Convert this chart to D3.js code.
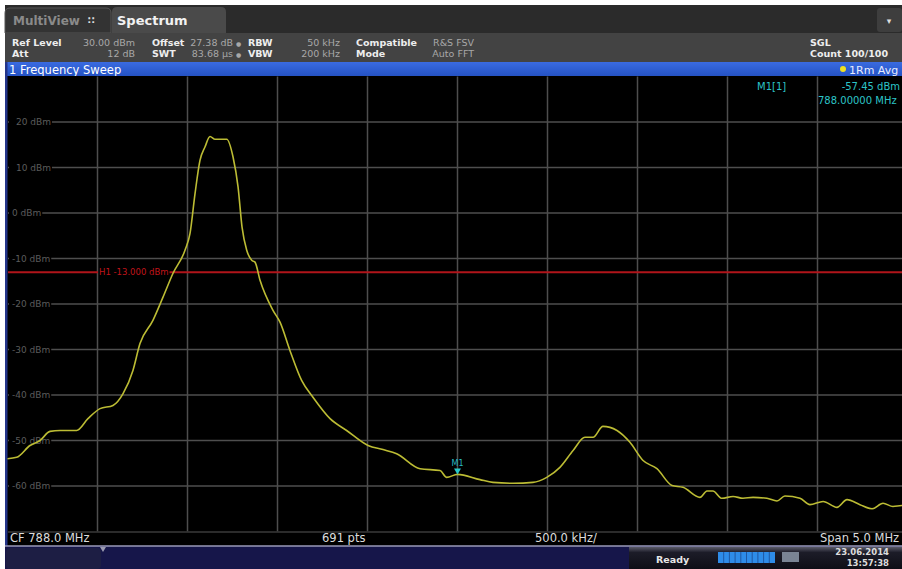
<!DOCTYPE html>
<html><head><meta charset="utf-8">
<script src="https://cdn.jsdelivr.net/npm/d3@7/dist/d3.min.js"></script>
<style>
html,body{margin:0;padding:0;background:#fff;overflow:hidden;}
svg{display:block;font-family:"DejaVu Sans",Verdana,sans-serif;}
</style></head><body>
<svg id="c" width="902" height="569"></svg>
<script>
// ---- data ----
const freqMHz = [785.50,785.551,785.625,785.681,785.736,785.792,785.884,785.947,786.014,786.086,786.142,786.197,786.236,786.308,786.364,786.419,786.486,786.514,786.542,786.569,786.597,786.625,786.653,786.718,786.753,786.781,786.803,786.829,786.857,786.875,786.903,786.975,787.014,787.069,787.134,787.197,787.292,787.384,787.503,787.586,787.662,787.792,787.903,787.940,788.000,788.125,788.197,788.308,788.419,788.496,788.569,788.642,788.708,788.753,788.808,788.886,788.958,789.031,789.108,789.192,789.253,789.347,789.386,789.419,789.469,789.531,789.586,789.642,789.719,789.775,789.819,789.903,789.958,790.031,790.108,790.164,790.236,790.303,790.364,790.419,790.469,790.50];
const levelDbm = [-54.0,-53.7,-51.1,-50.0,-48.0,-47.8,-47.8,-45.2,-43.0,-42.3,-39.7,-34.6,-28.7,-23.6,-18.5,-13.3,-8.2,-4.5,4.3,11.5,14.5,16.8,16.2,16.2,12.3,5.7,-3.1,-8.2,-10.4,-10.8,-14.8,-21.4,-24.0,-30.2,-36.8,-40.5,-45.2,-47.8,-51.1,-52.0,-52.9,-56.2,-56.6,-58.1,-57.45,-58.6,-59.2,-59.4,-59.2,-58.1,-55.9,-52.2,-49.3,-49.3,-46.9,-47.8,-50.4,-54.4,-56.2,-59.9,-60.3,-62.5,-61.1,-61.1,-62.7,-62.3,-62.7,-62.5,-62.7,-63.3,-62.2,-62.7,-64.1,-63.4,-64.7,-63.0,-64.1,-65.0,-63.8,-64.5,-64.3,-64.5];
const yTicks = [20,10,0,-10,-20,-30,-40,-50,-60];
const yTickLabels = ["20 dBm","10 dBm","0 dBm","-10 dBm","-20 dBm","-30 dBm","-40 dBm","-50 dBm","-60 dBm"];
const xGrid = [786.0,786.5,787.0,787.5,788.0,788.5,789.0,789.5,790.0];
const limitLine = -13.0;
const marker = {freq:788.0, level:-57.45};

const svg = d3.select("#c");
const x = d3.scaleLinear().domain([785.5,790.5]).range([7.5,907.5]);
const y = d3.scaleLinear().domain([-70,30]).range([531.5,76.5]);

// ---- chrome: tabs ----
svg.append("rect").attr("x",5).attr("y",5).attr("width",897).attr("height",28).attr("fill","#2b2b2b");
svg.append("path").attr("d","M5,33 V13 Q5,8 10,8 H106 Q111,8 111,13 V33 Z").attr("fill","#333").attr("stroke","#555").attr("stroke-width",1);
svg.append("text").attr("x",13).attr("y",25).attr("font-size",12).attr("font-weight","bold").attr("fill","#8a8a8a").text("MultiView");
svg.append("text").attr("x",88).attr("y",24).attr("font-size",10).attr("font-weight","bold").attr("fill","#ddd").text("\u2237");
svg.append("path").attr("d","M112,34 V12 Q112,7 117,7 H221 Q226,7 226,12 V34 Z").attr("fill","#4a4a4a");
svg.append("text").attr("x",117).attr("y",25).attr("font-size",13).attr("font-weight","bold").attr("fill","#f2f2f2").text("Spectrum");
svg.append("rect").attr("x",877).attr("y",8).attr("width",25).attr("height",24).attr("rx",3).attr("fill","#3e3e3e");
svg.append("text").attr("x",889).attr("y",24).attr("font-size",9).attr("fill","#ddd").attr("text-anchor","middle").text("\u25BE");

// ---- info panel ----
svg.append("rect").attr("x",5).attr("y",33).attr("width",897).attr("height",29).attr("fill","#434343");
const info = svg.append("g").attr("font-size",9.5);
function t(xp,yp,s,opt={}){
  const e = info.append("text").attr("x",xp).attr("y",yp).text(s)
    .attr("fill",opt.bold?"#eeeeee":"#a8a8a8");
  if(opt.bold) e.attr("font-weight","bold");
  if(opt.end) e.attr("text-anchor","end");
  return e;
}
t(12,46,"Ref Level",{bold:true}); t(135,46,"30.00 dBm",{end:true});
t(12,57,"Att",{bold:true}); t(135,57,"12 dB",{end:true});
t(152,46,"Offset",{bold:true}); t(233,46,"27.38 dB",{end:true});
t(152,57,"SWT",{bold:true}); t(233,57,"83.68 \u00B5s",{end:true});
t(236,46,"\u25CF").attr("font-size",6); t(236,57,"\u25CF").attr("font-size",6);
t(248,46,"RBW",{bold:true}); t(340,46,"50 kHz",{end:true});
t(248,57,"VBW",{bold:true}); t(340,57,"200 kHz",{end:true});
t(356,46,"Compatible",{bold:true}); t(474,46,"R&S FSV",{end:true});
t(356,57,"Mode",{bold:true}); t(474,57,"Auto FFT",{end:true});
t(810,46,"SGL",{bold:true});
t(810,57,"Count 100/100",{bold:true});

// ---- blue title bar ----
const grad = svg.append("defs").append("linearGradient").attr("id","blue").attr("x1",0).attr("x2",0).attr("y1",0).attr("y2",1);
grad.append("stop").attr("offset","0").attr("stop-color","#3a6be0");
grad.append("stop").attr("offset","1").attr("stop-color","#2452c4");
svg.append("rect").attr("x",5).attr("y",62).attr("width",897).attr("height",14).attr("fill","url(#blue)");
svg.append("text").attr("x",9).attr("y",73.5).attr("font-size",11.5).attr("fill","#ffffff").text("1 Frequency Sweep");
svg.append("circle").attr("cx",843).attr("cy",69).attr("r",3).attr("fill","#f0e020");
svg.append("text").attr("x",849).attr("y",73.5).attr("font-size",11).attr("fill","#e8ecff").text("1Rm Avg");

// ---- plot area ----
svg.append("rect").attr("x",5).attr("y",76).attr("width",897).attr("height",470).attr("fill","#000");
svg.append("rect").attr("x",5).attr("y",62).attr("width",2.5).attr("height",484).attr("fill","#24358a");

const grid = svg.append("g").attr("stroke","#4e4e4e").attr("stroke-width",1.5);
grid.selectAll("line.v").data(xGrid).join("line")
  .attr("x1",d=>x(d)).attr("x2",d=>x(d)).attr("y1",y(30)).attr("y2",y(-70));
grid.selectAll("line.h").data(yTicks).join("line")
  .attr("x1",8).attr("x2",902).attr("y1",d=>y(d)).attr("y2",d=>y(d));
svg.append("line").attr("x1",8).attr("x2",902).attr("y1",y(-70)+0.5).attr("y2",y(-70)+0.5).attr("stroke","#3a3a3a").attr("stroke-width",1.5);

const lab = svg.append("g").attr("font-size",9).attr("fill","#5c5c5c");
yTicks.forEach((v,i)=>{
  const tx = lab.append("text").attr("x",i<2?16:12).attr("y",y(v)+3).text(yTickLabels[i]);
  const w = tx.node().getComputedTextLength();
  lab.insert("rect","text").attr("x",9).attr("y",y(v)-4).attr("width",(i<2?16:12)+w-8).attr("height",8).attr("fill","#000");
});

// limit line
const ly = y(limitLine);
svg.append("line").attr("x1",8).attr("x2",98).attr("y1",ly).attr("y2",ly).attr("stroke","#b0141a").attr("stroke-width",2);
const h1 = svg.append("text").attr("x",99).attr("y",ly+3).attr("font-size",8.5).attr("fill","#c0141a").text("H1  -13.000 dBm");
const h1w = h1.node().getComputedTextLength();
svg.append("line").attr("x1",99+h1w+1).attr("x2",902).attr("y1",ly).attr("y2",ly).attr("stroke","#b0141a").attr("stroke-width",2);

// trace
const pts = freqMHz.map((f,i)=>[f,levelDbm[i]]);
const line = d3.line().x(d=>x(d[0])).y(d=>y(d[1])).curve(d3.curveMonotoneX);
svg.append("path").attr("d",line(pts)).attr("fill","none").attr("stroke","#bcbc34").attr("stroke-width",1.6);

// marker
const mx = x(marker.freq), my = y(marker.level);
svg.append("path").attr("d",`M${mx-3.5},${my-6} L${mx+3.5},${my-6} L${mx},${my} Z`).attr("fill","#28c8c8");
svg.append("text").attr("x",mx).attr("y",my-8).attr("text-anchor","middle").attr("font-size",8).attr("fill","#28b8c0").text("M1");

// marker readout
svg.append("text").attr("x",757).attr("y",90).attr("font-size",10).attr("fill","#2cc4c8").text("M1[1]");
svg.append("text").attr("x",900).attr("y",90).attr("text-anchor","end").attr("font-size",10).attr("fill","#2cc4c8").text(marker.level.toFixed(2)+" dBm");
svg.append("text").attr("x",818).attr("y",104).attr("font-size",10).attr("fill","#2cc4c8").text(marker.freq.toFixed(5)+" MHz");

// ---- bottom labels row ----
const bl = svg.append("g").attr("font-size",11.5).attr("fill","#dcdcdc");
bl.append("text").attr("x",10).attr("y",542).text("CF 788.0 MHz");
bl.append("text").attr("x",322).attr("y",542).text("691 pts");
bl.append("text").attr("x",535).attr("y",542).text("500.0 kHz/");
bl.append("text").attr("x",820).attr("y",542).text("Span 5.0 MHz");

// ---- status bar ----
svg.append("rect").attr("x",5).attr("y",546).attr("width",897).attr("height",23).attr("fill","#16164a");
svg.append("line").attr("x1",5).attr("x2",902).attr("y1",546).attr("y2",546).attr("stroke","#9a9ab8").attr("stroke-width",1.5);
svg.append("rect").attr("x",6).attr("y",548).attr("width",95).attr("height",21).attr("rx",4).attr("fill","#1d1e44");
svg.append("path").attr("d","M100,547 L106,547 L103,552 Z").attr("fill","#9a9ab0");
const g2 = svg.select("defs").append("linearGradient").attr("id","dk").attr("x1",0).attr("x2",0).attr("y1",0).attr("y2",1);
g2.append("stop").attr("offset","0").attr("stop-color","#5a5a68");
g2.append("stop").attr("offset","0.25").attr("stop-color","#1c1c28");
g2.append("stop").attr("offset","1").attr("stop-color","#0e0e16");
svg.append("rect").attr("x",629).attr("y",547).attr("width",273).attr("height",22).attr("fill","url(#dk)");
svg.append("text").attr("x",656).attr("y",563).attr("font-size",9.5).attr("font-weight","bold").attr("fill","#e6e6e6").text("Ready");
svg.append("rect").attr("x",718).attr("y",552).attr("width",57).attr("height",11).attr("fill","#2e8ce8");
const seg = d3.range(1,10).map(i=>718+i*5.7);
svg.selectAll("line.seg").data(seg).join("line").attr("x1",d=>d).attr("x2",d=>d).attr("y1",552).attr("y2",563).attr("stroke","#1a4a90").attr("stroke-width",0.8);
svg.append("rect").attr("x",782).attr("y",552).attr("width",17).attr("height",10).attr("fill","#7a8494");
svg.append("text").attr("x",889).attr("y",555).attr("text-anchor","end").attr("font-size",8.5).attr("font-weight","bold").attr("fill","#dcdcdc").text("23.06.2014");
svg.append("text").attr("x",889).attr("y",566).attr("text-anchor","end").attr("font-size",8.5).attr("font-weight","bold").attr("fill","#dcdcdc").text("13:57:38");
</script>
</body></html>
